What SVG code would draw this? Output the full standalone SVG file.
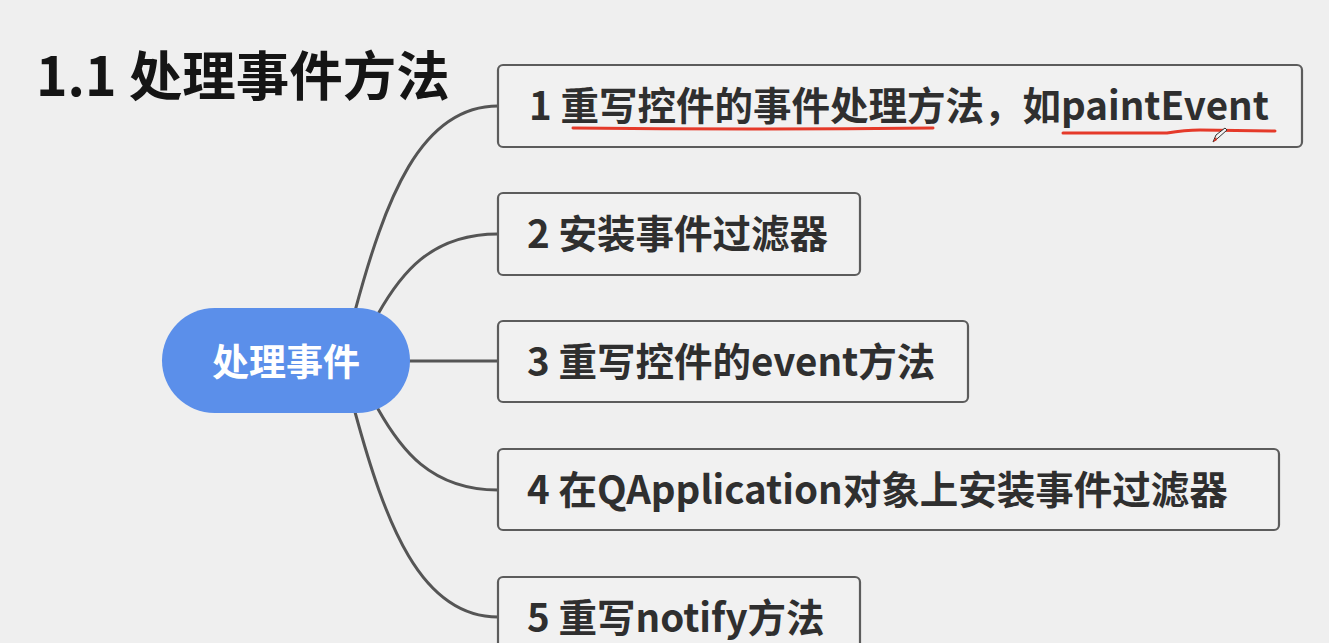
<svg xmlns="http://www.w3.org/2000/svg" width="1329" height="643" viewBox="0 0 1329 643">
<style>
.bg{fill:#efefef}
.box{fill:#f1f1f1;stroke:#5c5c5c;stroke-width:2.2}
.lbl{font-family:"Noto Sans CJK SC","Noto Sans",sans-serif;font-weight:bold;font-size:38.5px;fill:#2f2f2f}
.conn{fill:none;stroke:#555;stroke-width:3;stroke-linecap:round}
.ul{fill:none;stroke:#e53a2a;stroke-width:3;stroke-linecap:round}
</style>
<rect class="bg" x="0" y="0" width="1329" height="643"/>
<text x="36" y="96" font-family="'Noto Sans CJK SC','Noto Sans',sans-serif" font-weight="bold" font-size="53.5" fill="#151515">1.1 处理事件方法</text>
<g id="connectors">
<path class="conn" d="M355,311 C385,200 420,106 498,106"/>
<path class="conn" d="M378,314 C400,275 430,234 498,234"/>
<path class="conn" d="M410,361 L498,361"/>
<path class="conn" d="M378,409 C400,448 430,490 498,490"/>
<path class="conn" d="M355,412 C385,522 420,617 498,617"/>
</g>
<g id="root">
<rect x="162" y="308" width="248" height="105" rx="52.5" fill="#5b8fea"/>
<text x="286" y="376" text-anchor="middle" font-family="'Noto Sans CJK SC','Noto Sans',sans-serif" font-weight="bold" font-size="37" fill="#ffffff">处理事件</text>
</g>
<g id="n1">
<rect class="box" x="498" y="65" width="804" height="82" rx="5"/>
<text class="lbl" x="529" y="120">1 重写控件的事件处理方法，如paintEvent</text>
<path class="ul" d="M573,128 Q750,130 933,128"/>
<path class="ul" d="M1063,133 L1167,133 Q1185,130 1200,130 L1275,131"/>
<path d="M1213,142 L1216,135 L1225,128 L1227,130 L1218,138 Z" fill="#f4f4f4" stroke="#333" stroke-width="1"/>
<path d="M1213,142 L1216,137 L1217,140 Z" fill="#d42a1a"/>
</g>
<g id="n2">
<rect class="box" x="498" y="193" width="362" height="82" rx="5"/>
<text class="lbl" x="527" y="248">2 安装事件过滤器</text>
</g>
<g id="n3">
<rect class="box" x="498" y="321" width="470" height="81" rx="5"/>
<text class="lbl" x="527" y="376">3 重写控件的event方法</text>
</g>
<g id="n4">
<rect class="box" x="498" y="449" width="781" height="81" rx="5"/>
<text class="lbl" x="527" y="504">4 在QApplication对象上安装事件过滤器</text>
</g>
<g id="n5">
<rect class="box" x="498" y="577" width="362" height="82" rx="5"/>
<text class="lbl" x="527" y="632">5 重写notify方法</text>
</g>
</svg>
